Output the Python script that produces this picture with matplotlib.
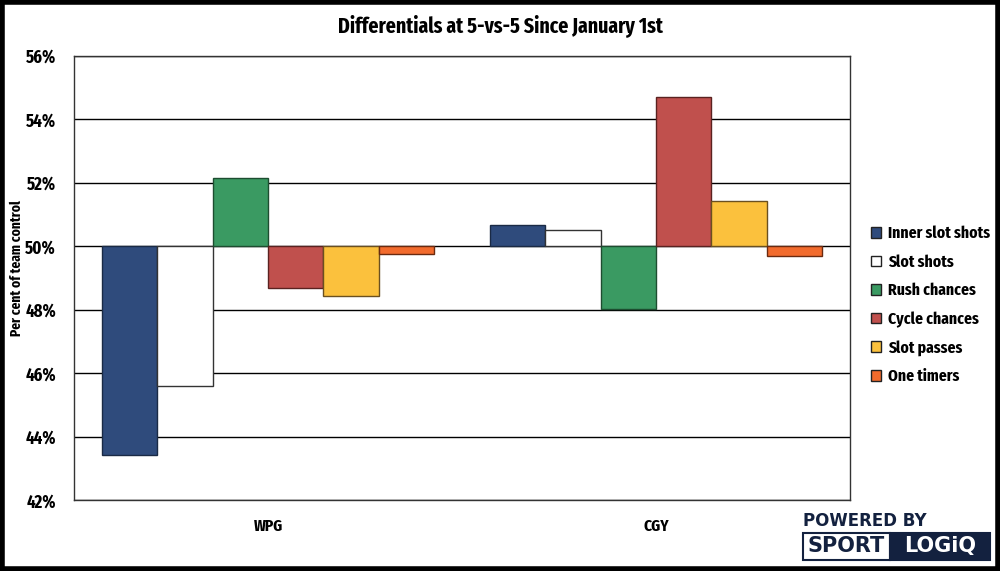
import matplotlib
matplotlib.use("Agg")
import matplotlib.pyplot as plt
import numpy as np
from matplotlib.patches import Rectangle

teams = ["WPG", "CGY"]
series = ["Inner slot shots", "Slot shots", "Rush chances", "Cycle chances", "Slot passes", "One timers"]
wpg = [43.43, 45.60, 52.16, 48.70, 48.44, 49.75]
cgy = [50.66, 50.50, 48.02, 54.71, 51.42, 49.71]
colors = ["#2f4b7c", "#ffffff", "#3a9a62", "#c0504d", "#fbc13d", "#f26b2d"]
edges = ["#1a2a45", "#333333", "#1d4d30", "#5a2220", "#6a5020", "#6a2a10"]
yticks = [42, 44, 46, 48, 50, 52, 54, 56]

plt.rcParams['font.family'] = ['Fira Sans Extra Condensed', 'DejaVu Sans']
plt.rcParams['font.weight'] = 'bold'

fig = plt.figure(figsize=(10, 5.71), dpi=100)
ax = fig.add_axes([0.074, 0.124, 0.776, 0.778])

values = np.array([wpg, cgy])
x = np.arange(len(teams))
bw = 0.143
for i, s in enumerate(series):
    pos = x + (i - 2.5) * bw
    v = values[:, i]
    ax.bar(pos, v - 50, bottom=50, width=bw, color=colors[i], edgecolor=edges[i],
           linewidth=1.0, label=s, zorder=3)

ax.set_ylim(42, 56)
ax.set_xlim(-0.5, 1.5)
ax.set_yticks(yticks)
ax.set_yticklabels([f"{t}%" for t in yticks], fontsize=13, fontweight='bold')
ax.set_xticks(x)
ax.set_xticklabels(teams, fontsize=12, fontweight='bold')
ax.tick_params(axis='y', length=0, pad=13)
ax.tick_params(axis='x', length=0, pad=13)
ax.yaxis.grid(True, color='black', linewidth=1.0, zorder=0)
ax.set_axisbelow(True)
for sp in ax.spines.values():
    sp.set_color('#333333')
    sp.set_linewidth(1.0)
fig.text(0.0165, 0.530, "Per cent of team control", rotation=90, fontsize=10.5, fontweight='bold',
         ha='center', va='center')
fig.text(0.5, 0.956, "Differentials at 5-vs-5 Since January 1st", ha='center', va='center',
         fontsize=15.5, fontweight='bold')

leg = ax.legend(loc='center left', bbox_to_anchor=(1.018, 0.439), frameon=False,
                fontsize=12.2, handlelength=0.6, handleheight=0.6, handletextpad=0.42,
                labelspacing=0.74, borderaxespad=0)
for h in leg.legend_handles:
    h.set_edgecolor('#222222')

# Logo
navy = "#13213f"
logo_font = ['DejaVu Sans']
fig.text(0.803, 0.087, "POWERED BY", fontsize=12, fontweight='bold', color=navy,
         family=logo_font, ha='left', va='center')
fig.patches.append(Rectangle((0.803, 0.020), 0.087, 0.047, transform=fig.transFigure,
                             facecolor='white', edgecolor=navy, linewidth=1.5))
fig.patches.append(Rectangle((0.890, 0.020), 0.100, 0.047, transform=fig.transFigure,
                             facecolor=navy, edgecolor=navy, linewidth=1.5))
fig.text(0.8465, 0.0435, "SPORT", fontsize=15, fontweight='bold', color=navy,
         family=logo_font, ha='center', va='center')
fig.text(0.940, 0.0435, "LOGiQ", fontsize=15, fontweight='bold', color='white',
         family=logo_font, ha='center', va='center')

# Outer border
fig.patches.append(Rectangle((0.002, 0.004), 0.996, 0.992, transform=fig.transFigure,
                             facecolor='none', edgecolor='black', linewidth=4))

fig.savefig("out.png", dpi=100)
